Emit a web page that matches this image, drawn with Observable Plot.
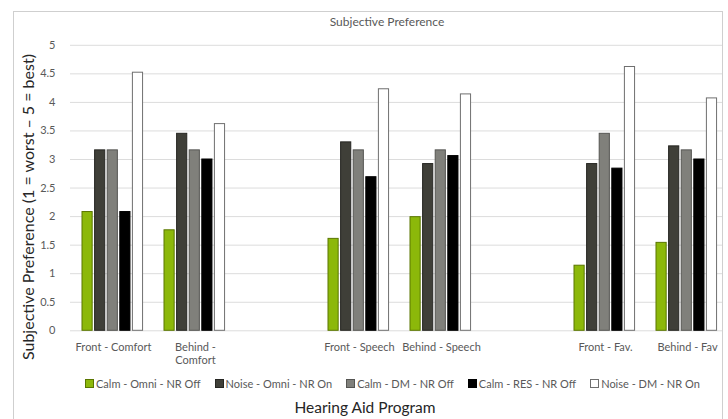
<!DOCTYPE html>
<html>
<head>
<meta charset="utf-8">
<script src="https://cdn.jsdelivr.net/npm/d3@7"></script>
<script src="https://cdn.jsdelivr.net/npm/@observablehq/plot@0.6"></script>
<style>
  html, body { margin: 0; padding: 0; background: #fff; width: 728px; height: 419px; overflow: hidden; }
  body { position: relative; font-family: Lato, "Open Sans", sans-serif; }
  #box { position: absolute; left: 13px; top: 11px; width: 710px; height: 430px; border: 1.5px solid #cfcfcf; box-sizing: border-box; }
  #title { position: absolute; top: 14px; left: 0; width: 774px; text-align: center; font-size: 12px; color: #595959; }
  #chart { position: absolute; left: 0; top: 32px; }
  #legend { position: absolute; top: 377px; left: 85px; display: flex; gap: 14px; font-size: 11px; color: #595959; white-space: nowrap; }
  #legend .item { display: flex; align-items: center; }
  #legend .sw { width: 7px; height: 7px; border: 1px solid; margin-right: 2px; }
  #xtitle { position: absolute; top: 398px; left: 14px; width: 702px; text-align: center; font-size: 15.5px; color: #262626; }
</style>
</head>
<body>
<div id="box"></div>
<div id="title"></div>
<div id="chart"></div>
<div id="legend"></div>
<div id="xtitle"></div>
<script>
const chartTitle = "Subjective Preference";
const yTitle = "Subjective Preference (1 = worst \u2013 5 = best)";
const xTitle = "Hearing Aid Program";

const categories = ["Front - Comfort", "Behind - Comfort", "gap1", "Front - Speech", "Behind - Speech", "gap2", "Front - Fav.", "Behind - Fav"];
const tickLabels = ["Front - Comfort", "Behind -\nComfort", "", "Front - Speech", "Behind - Speech", "", "Front - Fav.", "Behind - Fav"];
const dataCategories = ["Front - Comfort", "Behind - Comfort", "Front - Speech", "Behind - Speech", "Front - Fav.", "Behind - Fav"];

const series = ["Calm - Omni - NR Off", "Noise - Omni - NR On", "Calm - DM - NR Off", "Calm - RES - NR Off", "Noise - DM - NR On"];
const calmOmniOff  = [2.08, 1.76, 1.61, 1.99, 1.14, 1.54];
const noiseOmniOn  = [3.16, 3.45, 3.30, 2.92, 2.92, 3.23];
const calmDMOff    = [3.16, 3.16, 3.16, 3.16, 3.45, 3.16];
const calmRESOff   = [2.08, 3.00, 2.69, 3.06, 2.84, 3.00];
const noiseDMOn    = [4.52, 3.62, 4.23, 4.14, 4.62, 4.07];
const seriesValues = [calmOmniOff, noiseOmniOn, calmDMOff, calmRESOff, noiseDMOn];

const fills   = ["#8cb80a", "#3f3f38", "#80807b", "#000000", "#ffffff"];
const strokes = ["#5a7600", "#262622", "#555552", "#000000", "#6f6f6f"];

const yTicks = [0, 0.5, 1, 1.5, 2, 2.5, 3, 3.5, 4, 4.5, 5];
const yTickLabels = ["0", "0.5", "1", "1.5", "2", "2.5", "3", "3.5", "4", "4.5", "5"];

const rows = [];
series.forEach((s, j) => dataCategories.forEach((c, i) => rows.push({series: s, category: c, value: seriesValues[j][i]})));

document.getElementById("title").textContent = chartTitle;
document.getElementById("xtitle").textContent = xTitle;

const W = 728, H = 336, mL = 70, mT = 12.8, mB = 37.7;
const xRange = [70, 729.5];
const step = (xRange[1] - xRange[0]) / categories.length;
const groupOffset = 10, barStep = 12.6, barWidth = 10.6;
const labelOf = new Map(categories.map((c, i) => [c, tickLabels[i]]));
const yLabelOf = new Map(yTicks.map((t, i) => [t, yTickLabels[i]]));

const barMarks = series.map((s, j) => {
  const left = groupOffset + j * barStep;
  return Plot.barY(rows.filter(d => d.series === s), {
    x: "category", y: "value",
    fill: fills[j], stroke: strokes[j], strokeWidth: 1,
    insetLeft: left, insetRight: step - left - barWidth
  });
});

const plot = Plot.plot({
  width: W, height: H,
  marginLeft: mL, marginRight: 0, marginTop: mT, marginBottom: mB,
  style: {fontFamily: "Lato, 'Open Sans', sans-serif", background: "transparent"},
  x: {type: "band", domain: categories, range: xRange, padding: 0},
  y: {domain: [0, 5]},
  marks: [
    Plot.gridY({ticks: yTicks, stroke: "#dcdcdc", strokeOpacity: 1, strokeWidth: 1, insetRight: 6}),
    ...barMarks,
    Plot.axisY({ticks: yTicks, tickSize: 0, tickPadding: 15, tickFormat: d => yLabelOf.get(d), fontSize: 11, fill: "#595959", label: null}),
    Plot.axisX({tickSize: 0, tickPadding: 10, tickFormat: d => labelOf.get(d), fontSize: 11, fill: "#595959", lineHeight: 1.25, label: null}),
    Plot.text([yTitle], {text: d => d, frameAnchor: "left", rotate: -90, dx: -42, dy: 19, fontSize: 16, fill: "#262626", textAnchor: "middle", lineAnchor: "middle"})
  ]
});
document.getElementById("chart").appendChild(plot);

const legend = document.getElementById("legend");
series.forEach((s, j) => {
  const item = document.createElement("div");
  item.className = "item";
  const sw = document.createElement("span");
  sw.className = "sw";
  sw.style.background = fills[j];
  sw.style.borderColor = strokes[j];
  const t = document.createElement("span");
  t.textContent = s;
  item.appendChild(sw);
  item.appendChild(t);
  legend.appendChild(item);
});
</script>
</body>
</html>
